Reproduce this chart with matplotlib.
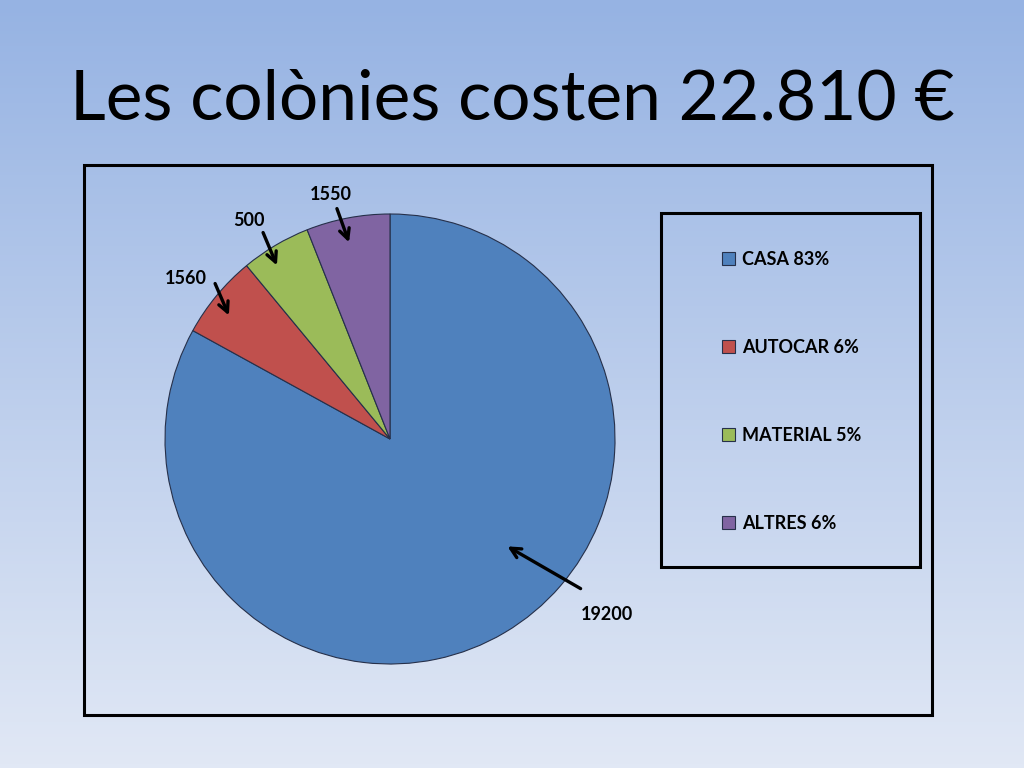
import numpy as np
import matplotlib.pyplot as plt
from matplotlib.colors import LinearSegmentedColormap
from matplotlib.patches import Rectangle

plt.rcParams['font.family'] = ['Lato', 'DejaVu Sans']

categories = ["CASA", "AUTOCAR", "MATERIAL", "ALTRES"]
costs = [19200, 1560, 500, 1550]
shares = [83, 6, 5, 6]   # percentages as shown (the slices follow these)
colors = ["#4F81BD", "#C0504D", "#9BBB59", "#8064A2"]
title = "Les colònies costen 22.810 €"

W, H = 1024, 768
fig = plt.figure(figsize=(10.24, 7.68), dpi=100)

# gradient background
bg = fig.add_axes([0, 0, 1, 1])
grad = np.linspace(0, 1, 256).reshape(-1, 1)
cmap = LinearSegmentedColormap.from_list("bg", ["#96B3E3", "#E1E8F5"])
bg.imshow(grad, aspect="auto", cmap=cmap, extent=[0, W, 0, H], origin="upper")
bg.set_xlim(0, W)
bg.set_ylim(0, H)
bg.axis("off")


def py(y):
    # pixel row (from top) -> data y
    return H - y


ax = fig.add_axes([0, 0, 1, 1])
ax.patch.set_visible(False)
wedges, _ = ax.pie(shares, colors=colors, startangle=90, counterclock=False,
                   center=(390, py(439)), radius=225,
                   wedgeprops=dict(edgecolor="#26304a", linewidth=0.8))
ax.set_xlim(0, W)
ax.set_ylim(0, H)
ax.set_aspect("auto")
ax.axis("off")

ax.add_patch(Rectangle((84, py(715)), 848, 550, fill=False, ec="black", lw=2.2))
ax.add_patch(Rectangle((661, py(567)), 259, 354, fill=False, ec="black", lw=2.2))

# value labels with arrows: text xy, arrow start, arrow tip (pixels from top-left)
label_pos = [((607, 614), (583, 590), (505, 545)),
             ((186, 279), (214, 281), (230, 318)),
             ((249, 220), (262, 230), (278, 268)),
             ((331, 195), (336, 206), (350, 245))]
for v, (txy, st, tip) in zip(costs, label_pos):
    ax.text(txy[0], py(txy[1]), str(v), ha="center", va="center",
            fontsize=13, fontweight="bold", color="black")
    ax.annotate("", xy=(tip[0], py(tip[1])), xytext=(st[0], py(st[1])),
                arrowprops=dict(arrowstyle="->", lw=2.4, color="black",
                                mutation_scale=18))

legend_labels = [f"{c} {s}%" for c, s in zip(categories, shares)]
leg = ax.legend(wedges, legend_labels, loc="upper left",
                bbox_to_anchor=(722 / W, 1 - 251 / H), frameon=False,
                prop=dict(size=13, weight="bold"), labelspacing=3.93,
                handlelength=0.7, handleheight=0.7, handletextpad=0.4,
                borderpad=0, borderaxespad=0)

fig.text(512 / W, 1 - 100 / H, title, ha="center", va="center", fontsize=50,
         color="black")

fig.savefig("out.png", dpi=100)
